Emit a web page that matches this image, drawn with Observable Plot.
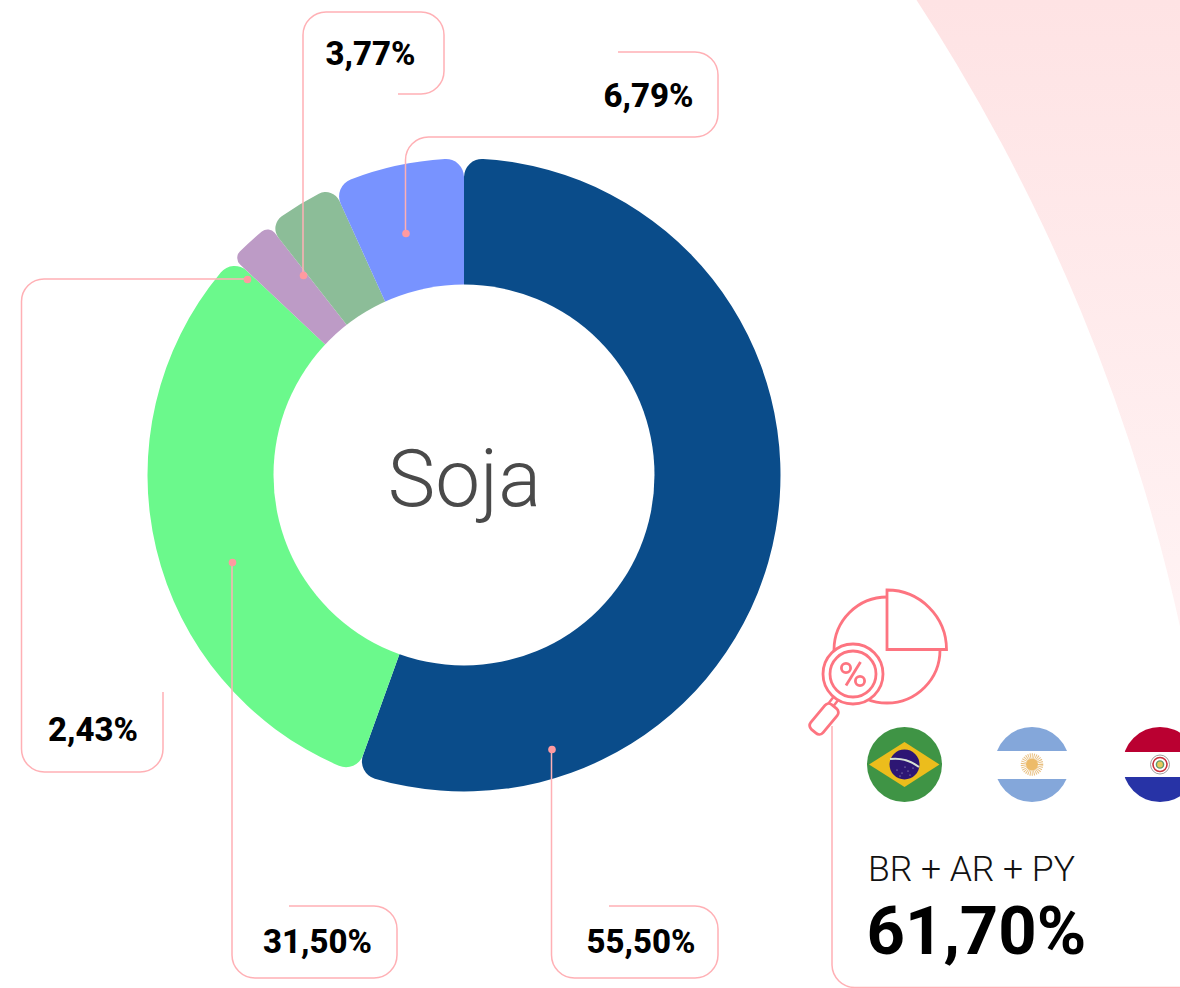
<!DOCTYPE html>
<html><head><meta charset="utf-8">
<script src="https://cdn.jsdelivr.net/npm/d3@7"></script>
<script src="https://cdn.jsdelivr.net/npm/@observablehq/plot@0.6"></script>
<style>html,body{margin:0;padding:0;background:#fff;overflow:hidden}svg{display:block}</style>
</head><body><div id="chart"></div>
<script>
const names = ["Brasil", "Argentina", "Paraguai", "Estados Unidos", "Outros"];
const shares = [55.50, 31.50, 2.43, 3.77, 6.79];
const shareLabels = ["55,50%", "31,50%", "2,43%", "3,77%", "6,79%"];
const colors = ["#0a4c8a", "#6bf98c", "#bd9bc6", "#8cbd98", "#7893ff"];
const corners = [18, 18, 9, 15, 18];
const labelX = [640.5, 317, 92.5, 370, 648];
const labelY = [952, 952, 740, 64, 106];
const anchorX = [551.5, 232, 247, 303, 405.5];
const anchorY = [749, 562, 279, 275, 233];
const leaders = [
  "M551.5 749V955A23 23 0 0 0 574.5 978H695A23 23 0 0 0 718 955V929A23 23 0 0 0 695 906H609",
  "M232 562V955A23 23 0 0 0 255 978H374A23 23 0 0 0 397 955V929A23 23 0 0 0 374 906H289",
  "M247 279H44A22.5 22.5 0 0 0 21.5 301.5V749A23 23 0 0 0 44.5 772H140A23 23 0 0 0 163 749V692",
  "M303 275V35A23 23 0 0 1 326 12H421A23 23 0 0 1 444 35V71A23 23 0 0 1 421 94H398",
  "M405.5 233V160A23 23 0 0 1 428.5 137H695A23 23 0 0 0 718 114V75A23 23 0 0 0 695 52H618"
];
const brStars = [[897,770],[902,773],[908,771],[913,768],[905,767],[900,776],[910,775]];
const center = {x: 464, y: 475}, outerR = 316.5, innerR = 190.5;
const PINK = "#fd7480", LINE = "#ffb0b5";

function background(_, {x, y}) {
  const g = d3.create("svg:g");
  const grad = g.append("linearGradient").attr("id", "bgGrad").attr("x1", 0).attr("x2", 0).attr("y1", 0).attr("y2", 1);
  grad.append("stop").attr("offset", 0).attr("stop-color", "#fee3e4");
  grad.append("stop").attr("offset", 1).attr("stop-color", "#fff3f4");
  g.append("rect").attr("x", x(880)).attr("y", y(0)).attr("width", 300).attr("height", 640).attr("fill", "url(#bgGrad)");
  g.append("circle").attr("cx", x(-658)).attr("cy", y(1031)).attr("r", 1882).attr("fill", "#fff");
  return g.node();
}
function donut(_, {x, y}) {
  const g = d3.create("svg:g").attr("transform", `translate(${x(center.x)},${y(center.y)})`);
  const pie = d3.pie().sort(null)(shares);
  const arc = d3.arc().innerRadius(innerR - 90).outerRadius(outerR);
  pie.forEach((d, i) => g.append("path").attr("d", arc.cornerRadius(corners[i])(d)).attr("fill", colors[i]));
  g.append("circle").attr("r", innerR).attr("fill", "#fff");
  return g.node();
}
function leaderLines() {
  const g = d3.create("svg:g").attr("fill", "none").attr("stroke", LINE).attr("stroke-width", 1.5);
  leaders.forEach(d => g.append("path").attr("d", d));
  g.append("path").attr("d", "M832 726V965A23 23 0 0 0 855 987.5H1180");
  return g.node();
}
function icon() {
  const g = d3.create("svg:g").attr("fill", "none").attr("stroke", PINK).attr("stroke-width", 2.8);
  g.append("path").attr("d", "M887 597A53 53 0 1 0 940 650");
  g.append("path").attr("d", "M887 649.5V590A59.5 59.5 0 0 1 946.5 649.5Z").attr("fill", "#fff");
  g.append("path").attr("d", "M837 697L830 706").attr("stroke-width", 8);
  g.append("path").attr("d", "M837 697L830 706").attr("stroke-width", 3).attr("stroke", "#fff");
  g.append("rect").attr("x", -8).attr("y", -16).attr("width", 16).attr("height", 32).attr("rx", 5).attr("transform", "translate(824,719) rotate(40)").attr("fill", "#fff");
  g.append("circle").attr("cx", 853).attr("cy", 674).attr("r", 30).attr("fill", "#fff");
  g.append("circle").attr("cx", 853).attr("cy", 674).attr("r", 23);
  g.append("circle").attr("cx", 846).attr("cy", 668).attr("r", 4.6);
  g.append("circle").attr("cx", 860).attr("cy", 681).attr("r", 4.6);
  g.append("path").attr("d", "M860.5 662L846 685.5");
  return g.node();
}
function flags() {
  const g = d3.create("svg:g");
  const clip = (id, cx) => g.append("clipPath").attr("id", id).append("circle").attr("cx", cx).attr("cy", 764.5).attr("r", 37.5);
  clip("fBR", 904.5); clip("fAR", 1032); clip("fPY", 1160);
  const br = g.append("g").attr("clip-path", "url(#fBR)");
  br.append("rect").attr("x", 860).attr("y", 720).attr("width", 90).attr("height", 90).attr("fill", "#3f9445");
  br.append("path").attr("d", "M869 764.5L904.5 742L939.5 764.5L904.5 787Z").attr("fill", "#ecbd1c");
  br.append("circle").attr("cx", 904.5).attr("cy", 764.5).attr("r", 15).attr("fill", "#2d1674");
  br.append("path").attr("d", "M890 759Q906 757 919 767").attr("fill", "none").attr("stroke", "#d9e3d6").attr("stroke-width", 2);
  brStars.forEach(([cx, cy]) => br.append("circle").attr("cx", cx).attr("cy", cy).attr("r", .5).attr("fill", "#d9d9ee"));
  const ar = g.append("g").attr("clip-path", "url(#fAR)");
  ar.append("rect").attr("x", 990).attr("y", 720).attr("width", 90).attr("height", 31).attr("fill", "#84a7da");
  ar.append("rect").attr("x", 990).attr("y", 779).attr("width", 90).attr("height", 31).attr("fill", "#84a7da");
  ar.append("circle").attr("cx", 1032).attr("cy", 764.5).attr("r", 8.5).attr("fill", "none").attr("stroke", "#e8bf80").attr("stroke-width", 5.5).attr("stroke-dasharray", "0.9 0.9");
  ar.append("circle").attr("cx", 1032).attr("cy", 764.5).attr("r", 6).attr("fill", "#edbb69");
  const py = g.append("g").attr("clip-path", "url(#fPY)");
  py.append("rect").attr("x", 1115).attr("y", 720).attr("width", 90).attr("height", 32).attr("fill", "#ba0031");
  py.append("rect").attr("x", 1115).attr("y", 777).attr("width", 90).attr("height", 33).attr("fill", "#2733a6");
  py.append("circle").attr("cx", 1160).attr("cy", 764.5).attr("r", 9.5).attr("fill", "#fff").attr("stroke", "#888").attr("stroke-width", .8);
  py.append("circle").attr("cx", 1160).attr("cy", 764.5).attr("r", 7).attr("fill", "#fff").attr("stroke", "#c8323c").attr("stroke-width", 1.6);
  py.append("circle").attr("cx", 1160).attr("cy", 764.5).attr("r", 3.6).attr("fill", "#e8c95a").attr("stroke", "#5f9a6a").attr("stroke-width", 1.4);
  return g.node();
}

const chart = Plot.plot({
  width: 1180, height: 988,
  margin: 0,
  x: {domain: [0, 1180], range: [0, 1180], axis: null},
  y: {domain: [0, 988], range: [0, 988], axis: null},
  style: {fontFamily: "Roboto", background: "#fff"},
  marks: [
    background,
    donut,
    leaderLines,
    Plot.dot(names, {x: (_, i) => anchorX[i], y: (_, i) => anchorY[i], r: 3.8, fill: "#ff9aa0", stroke: "none"}),
    icon,
    flags,
    Plot.text(shareLabels, {x: (_, i) => labelX[i], y: (_, i) => labelY[i], text: d => d, fontSize: 33, fontWeight: 800, fill: "#000", textAnchor: "middle", lineAnchor: "bottom"}),
    Plot.text(["Soja"], {x: [464], y: [505], fontSize: 80, fontWeight: 300, fill: "#4a4a4a", textAnchor: "middle", lineAnchor: "bottom"}),
    Plot.text(["BR + AR + PY"], {x: [867.5], y: [880], fontSize: 35.5, fontWeight: 300, fill: "#111", textAnchor: "start", lineAnchor: "bottom"}),
    Plot.text(["61,70%"], {x: [866], y: [953], fontSize: 67, fontWeight: 700, fill: "#000", textAnchor: "start", lineAnchor: "bottom"})
  ]
});
document.getElementById("chart").append(chart);
</script></body></html>
